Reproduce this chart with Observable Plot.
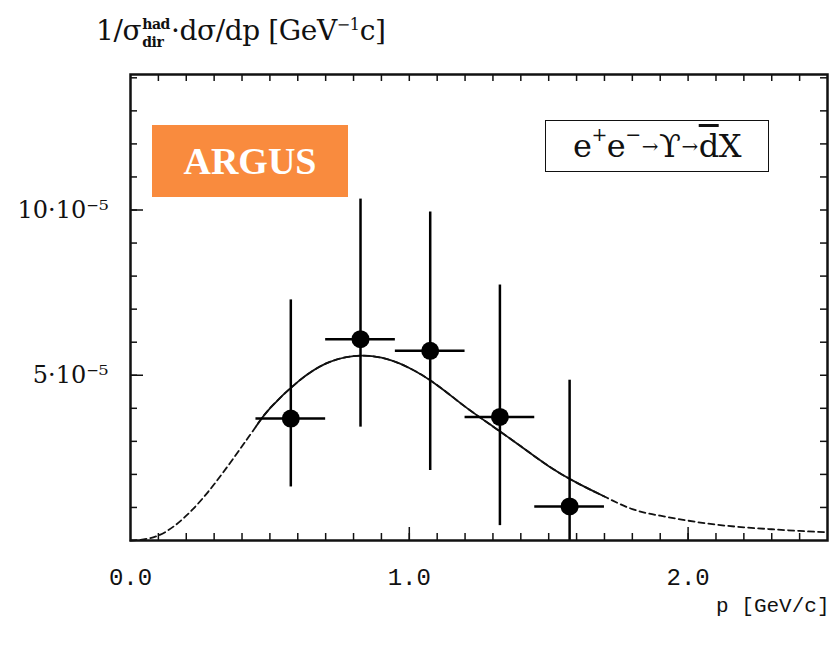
<!DOCTYPE html>
<html><head><meta charset="utf-8">
<script src="https://cdn.jsdelivr.net/npm/d3@7"></script>
<script src="https://cdn.jsdelivr.net/npm/@observablehq/plot@0.6"></script>
<style>
body{margin:0;background:#fff;}
#wrap{position:relative;width:835px;height:645px;overflow:hidden;}
#ytitle{position:absolute;left:96px;top:14px;font-family:"DejaVu Serif",serif;font-size:28px;white-space:nowrap;color:#111;letter-spacing:-0.4px;}
#ytitle .stack{display:inline-flex;flex-direction:column;vertical-align:middle;font-size:14px;line-height:18px;font-weight:bold;margin:0 1px;}
#ytitle .stack span{display:block;height:18px;}
#ytitle sup{font-size:16px;}
#argus{position:absolute;left:152px;top:125px;width:196px;height:72px;background:#F98B3E;color:#fff;font:bold 38px "Liberation Serif",serif;display:flex;align-items:center;justify-content:center;}
#react{position:absolute;left:545px;top:120px;width:222px;height:50px;border:1.5px solid #111;font:32px "DejaVu Serif",serif;display:flex;align-items:center;justify-content:center;white-space:nowrap;color:#111;letter-spacing:-0.5px;}
#react sup{font-size:19px;position:relative;top:-12px;}
#react .arr{font-size:20px;margin:0 1px;}
</style></head>
<body><div id="wrap"></div>
<script>
// ---- data (momentum in GeV/c, values in units of 1e-5 GeV^-1 c) ----
const pCenter = [0.575, 0.825, 1.075, 1.325, 1.575];
const binLow  = [0.45, 0.70, 0.95, 1.20, 1.45];
const binHigh = [0.70, 0.95, 1.20, 1.45, 1.70];
const value   = [3.69, 6.09, 5.74, 3.74, 1.03];
const errHigh = [7.28, 10.33, 9.94, 7.73, 4.85];
const errLow  = [1.62, 3.43, 2.12, 0.45, 0.0];

const curveP = [0, 0.1, 0.2, 0.3, 0.4, 0.45, 0.5, 0.6, 0.7, 0.8, 0.9, 1.0, 1.1, 1.2, 1.3, 1.4, 1.5, 1.6, 1.7, 1.8, 1.9, 2.0, 2.1, 2.2, 2.3, 2.4, 2.5];
const curveV = [0, 0.15, 0.75, 1.7, 2.85, 3.45, 4.0, 4.8, 5.35, 5.58, 5.53, 5.22, 4.7, 4.05, 3.45, 2.85, 2.25, 1.75, 1.33, 0.95, 0.75, 0.6, 0.48, 0.4, 0.34, 0.29, 0.25];
const solidRange = [0.45, 1.70];

const xTickLabels = [0, 1, 2];
const yTickLabels = [5, 10];
const xMinorTicks = d3.range(1, 25).map(i => i / 10);
const xMajorTicks = [1, 2];
const yMinorTicks = d3.range(1, 15);
const yMajorTicks = [5, 10];
const xTitle = "p [GeV/c]";

const points = pCenter.map((p, i) => ({p, lo: binLow[i], hi: binHigh[i], v: value[i], eh: errHigh[i], el: errLow[i]}));
const curve = curveP.map((p, i) => ({p, v: curveV[i]}));

const W = 835, H = 645, mL = 130, mR = 8, mT = 74, mB = 105;
const iW = W - mL - mR, iH = H - mT - mB;
const xDomain = [0, 2.5], yDomain = [0, 14.1];
// tick lengths in pixels, converted to data units so they pass through the scales
const xPerPx = (xDomain[1] - xDomain[0]) / iW, yPerPx = (yDomain[1] - yDomain[0]) / iH;
const minorLen = 7, majorLen = 13;

const chart = Plot.plot({
  width: W, height: H,
  marginLeft: mL, marginRight: mR, marginTop: mT, marginBottom: mB,
  x: {domain: xDomain},
  y: {domain: yDomain},
  style: {background: "#fff", color: "#111"},
  marks: [
    // inward tick marks on all four sides
    Plot.ruleX(xMinorTicks, {x: d => d, y1: yDomain[0], y2: yDomain[0] + minorLen * yPerPx, stroke: "#111", strokeWidth: 1.5}),
    Plot.ruleX(xMajorTicks, {x: d => d, y1: yDomain[0], y2: yDomain[0] + majorLen * yPerPx, stroke: "#111", strokeWidth: 1.5}),
    Plot.ruleX(xMinorTicks, {x: d => d, y1: yDomain[1] - minorLen * yPerPx, y2: yDomain[1], stroke: "#111", strokeWidth: 1.5}),
    Plot.ruleY(yMinorTicks, {y: d => d, x1: xDomain[0], x2: xDomain[0] + minorLen * xPerPx, stroke: "#111", strokeWidth: 1.5}),
    Plot.ruleY(yMajorTicks, {y: d => d, x1: xDomain[0], x2: xDomain[0] + majorLen * xPerPx, stroke: "#111", strokeWidth: 1.5}),
    Plot.ruleY(yMinorTicks, {y: d => d, x1: xDomain[1] - minorLen * xPerPx, x2: xDomain[1], stroke: "#111", strokeWidth: 1.5}),
    Plot.axisX(xTickLabels, {tickSize: 0, tickPadding: 27, tickFormat: d3.format(".1f"), fontSize: 24, fontFamily: "Liberation Mono", label: null}),
    Plot.axisY(yTickLabels, {tickSize: 0, tickPadding: 22, tickFormat: d => d + "·10⁻⁵", fontSize: 24, fontFamily: "DejaVu Serif", label: null}),
    Plot.text([xTitle], {text: d => d, frameAnchor: "bottom-right", dy: 71, dx: 2, textAnchor: "end", fontSize: 21, fontFamily: "Liberation Mono"}),
    // model curve: dashed outside the measured range, solid inside
    Plot.line(curve, {x: "p", y: "v", curve: "natural", stroke: "#111", strokeWidth: 1.8, strokeDasharray: "6,4"}),
    Plot.line(curve.filter(d => d.p >= solidRange[0] && d.p <= solidRange[1]), {x: "p", y: "v", curve: "natural", stroke: "#111", strokeWidth: 1.8}),
    // data with error bars
    Plot.ruleX(points, {x: "p", y1: "el", y2: "eh", stroke: "#000", strokeWidth: 2.5}),
    Plot.ruleY(points, {y: "v", x1: "lo", x2: "hi", stroke: "#000", strokeWidth: 2.5}),
    Plot.dot(points, {x: "p", y: "v", r: 9, fill: "#000", stroke: "none"}),
    Plot.frame({stroke: "#111", strokeWidth: 2.5})
  ]
});
const wrap = document.getElementById("wrap");
wrap.appendChild(chart);
wrap.insertAdjacentHTML("beforeend",
  '<div id="ytitle">1/σ<span class="stack"><span>had</span><span>dir</span></span>·dσ/dp [GeV<sup>−1</sup>c]</div>' +
  '<div id="argus">ARGUS</div>' +
  '<div id="react">e<sup>+</sup>e<sup>−</sup><span class="arr">→</span>ϒ<span class="arr">→</span><span style="text-decoration:overline">d</span>X</div>');
</script>
</body></html>
